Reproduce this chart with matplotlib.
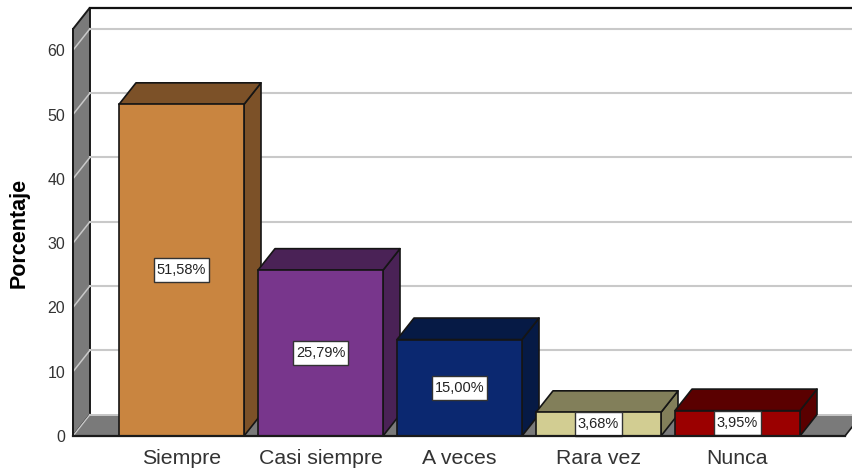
import matplotlib
matplotlib.use("Agg")
import matplotlib.pyplot as plt
from matplotlib.patches import Polygon

categories = ["Siempre", "Casi siempre", "A veces", "Rara vez", "Nunca"]
values = [51.58, 25.79, 15.00, 3.68, 3.95]
labels = ["51,58%", "25,79%", "15,00%", "3,68%", "3,95%"]
front_colors = ["#C98540", "#78368C", "#0B2870", "#D2CD92", "#9B0000"]
side_colors = ["#7C5128", "#4A2256", "#061A45", "#827F5A", "#5A0000"]
yticks = [0, 10, 20, 30, 40, 50, 60]

plt.rcParams["font.family"] = ["Liberation Sans", "DejaVu Sans"]
W, H = 852, 469
fig = plt.figure(figsize=(W / 100, H / 100), dpi=100)
ax = fig.add_axes([73 / W, (H - 436) / H, (W - 73) / W, 436 / H])
PXY = 6.43
PXX = 139.0
ax.set_xlim((73 - 181.5) / PXX, (852 - 181.5) / PXX)
ax.set_ylim(0, 436 / PXY)
dx, dy = 17 / PXX, 21.5 / PXY
x0 = ax.get_xlim()[0]
xr = (845 - 181.5) / PXX
ytop = 407 / PXY
bw = 125 / PXX

ax.set_facecolor("white")
wall = "#7A7A7A"
ax.add_patch(Polygon([(x0, 0), (x0 + dx, dy), (x0 + dx, ytop + dy), (x0, ytop)],
                     closed=True, fc=wall, ec="#1a1a1a", lw=1.4, zorder=1, clip_on=False))
ax.add_patch(Polygon([(x0, 0), (xr, 0), (xr + dx, dy), (x0 + dx, dy)],
                     closed=True, fc=wall, ec="none", zorder=1.2))
ax.plot([x0 + dx, xr + dx], [dy, dy], color="#c8c8c8", lw=1.4, zorder=1.3)
ax.plot([xr, xr + dx], [0, dy], color="#1a1a1a", lw=1.2, zorder=1.4)
for t in yticks[1:]:
    ax.plot([x0 + dx, 10], [t + dy, t + dy], color="#c9c9c9", lw=1.5, zorder=1.5)
    ax.plot([x0, x0 + dx], [t, t + dy], color="#c9c9c9", lw=1.1, zorder=1.5)
ax.plot([x0, x0 + dx], [0, dy], color="#c9c9c9", lw=1.0, zorder=1.5)
ax.plot([x0 + dx, 10], [ytop + dy, ytop + dy], color="#111111", lw=1.6, zorder=1.6)

for i, (v, fc, sc, lab) in enumerate(zip(values, front_colors, side_colors, labels)):
    z = 2 + i
    l, r = i - bw / 2, i + bw / 2
    ax.add_patch(Polygon([(r, 0), (r + dx, dy), (r + dx, v + dy), (r, v)], closed=True,
                         fc=sc, ec="#151515", lw=1.2, zorder=z, joinstyle="round"))
    ax.add_patch(Polygon([(l, v), (l + dx, v + dy), (r + dx, v + dy), (r, v)], closed=True,
                         fc=sc, ec="#151515", lw=1.2, zorder=z, joinstyle="round"))
    ax.bar(i, v, width=bw, color=fc, edgecolor="#151515", linewidth=1.2, zorder=z + 0.1)
    ax.text(i, v / 2, lab, ha="center", va="center", fontsize=10.5, color="#222222",
            zorder=20, bbox=dict(boxstyle="square,pad=0.2", mutation_aspect=1.7,
                                 fc="white", ec="#333333", lw=1.0))

for s in ["top", "right"]:
    ax.spines[s].set_visible(False)
ax.spines["left"].set_bounds(0, ytop)
ax.spines["left"].set_color("#1a1a1a")
ax.spines["left"].set_linewidth(1.4)
ax.spines["bottom"].set_bounds(x0, xr)
ax.spines["bottom"].set_color("#1a1a1a")
ax.spines["bottom"].set_linewidth(1.6)
for sp in ax.spines.values():
    sp.set_zorder(30)

ax.set_yticks(yticks)
ax.set_xticks(range(len(categories)))
ax.set_xticklabels(categories)
ax.tick_params(axis="y", length=0, pad=5.5, labelsize=11.5, labelcolor="#333333")
ax.tick_params(axis="x", length=0, pad=9, labelsize=15.3, labelcolor="#333333")
fig.text(19 / W, 1 - 232.5 / H, "Porcentaje", rotation=90, ha="center", va="center",
         fontsize=15.5, fontweight="bold", color="black")
fig.savefig("out.png", dpi=100)
